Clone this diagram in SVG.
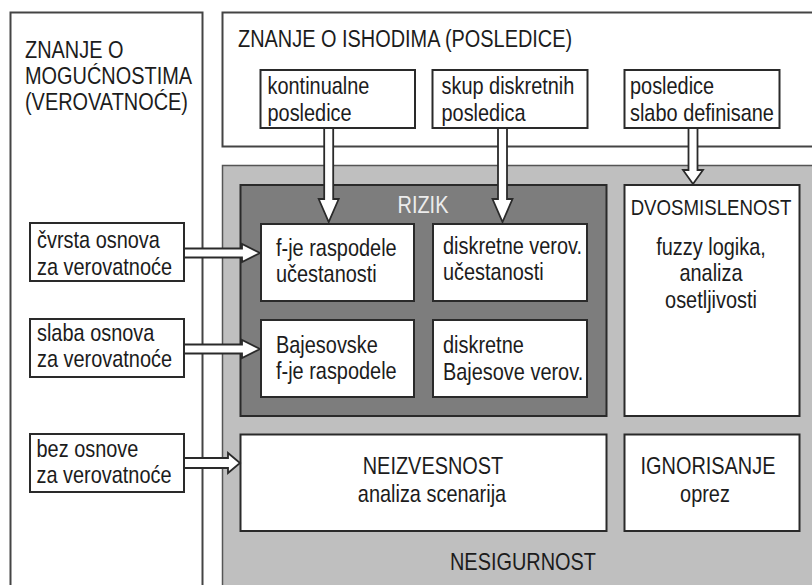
<svg xmlns="http://www.w3.org/2000/svg" width="812" height="585" viewBox="0 0 812 585">
<style>
.t{font-family:"Liberation Sans",Arial,sans-serif;font-size:24px;fill:#1c1c1c}
.c{text-anchor:middle}
.box{fill:#fff;stroke:#2a2a2a;stroke-width:2}
.big{fill:#fff;stroke:#444;stroke-width:2}
.arr{fill:#fff;stroke:#2a2a2a;stroke-width:1.8;stroke-linejoin:miter}
</style>
<rect width="812" height="585" fill="#fff"/>
<g id="verovatnoce">
<rect class="big" x="10.5" y="12.5" width="192" height="600"/>
<g transform="scale(0.83 1)">
<text class="t" x="30.12" y="58">ZNANJE O</text>
<text class="t" x="30.12" y="84">MOGUĆNOSTIMA</text>
<text class="t" x="30.12" y="110">(VEROVATNOĆE)</text>
</g>
</g>
<g id="posledice">
<rect class="big" x="222.5" y="12.5" width="600" height="134"/>
<g transform="scale(0.83 1)">
<text class="t" x="286.75" y="47">ZNANJE O ISHODIMA (POSLEDICE)</text>
</g>
</g>
<g id="nesigurnost">
<rect x="222.5" y="165.5" width="600" height="440" fill="#bfbfbf" stroke="#555" stroke-width="1.5"/>
<g transform="scale(0.83 1)">
<text class="t c" x="630.12" y="570">NESIGURNOST</text>
</g>
</g>
<g id="rizik">
<rect x="240.5" y="185" width="366" height="231" fill="#7d7d7d" stroke="#2a2a2a" stroke-width="2"/>
<g transform="scale(0.83 1)">
<text class="t c" x="509.64" y="213" style="fill:#ececec">RIZIK</text>
</g>
</g>
<g id="kontinualne">
<rect class="box" x="260.5" y="70" width="154.5" height="58"/>
<g transform="scale(0.83 1)">
<text class="t" x="322.29" y="94">kontinualne</text>
<text class="t" x="322.29" y="121">posledice</text>
</g>
</g>
<g id="skup">
<rect class="box" x="432.5" y="70" width="155" height="58"/>
<g transform="scale(0.83 1)">
<text class="t" x="531.93" y="94">skup diskretnih</text>
<text class="t" x="531.93" y="121">posledica</text>
</g>
</g>
<g id="slabo">
<rect class="box" x="624.5" y="70" width="155" height="58"/>
<g transform="scale(0.83 1)">
<text class="t" x="759.04" y="94">posledice</text>
<text class="t" x="759.04" y="121">slabo definisane</text>
</g>
</g>
<g id="cvrsta">
<rect class="box" x="30" y="223" width="154" height="58"/>
<g transform="scale(0.83 1)">
<text class="t" x="44.58" y="248">čvrsta osnova</text>
<text class="t" x="44.58" y="275">za verovatnoće</text>
</g>
</g>
<g id="slaba">
<rect class="box" x="30" y="319" width="154" height="58"/>
<g transform="scale(0.83 1)">
<text class="t" x="44.58" y="341">slaba osnova</text>
<text class="t" x="44.58" y="367">za verovatnoće</text>
</g>
</g>
<g id="bez">
<rect class="box" x="30" y="434" width="154" height="58"/>
<g transform="scale(0.83 1)">
<text class="t" x="43.98" y="457">bez osnove</text>
<text class="t" x="43.98" y="483">za verovatnoće</text>
</g>
</g>
<g id="fje">
<rect class="box" x="261" y="224" width="153" height="77"/>
<g transform="scale(0.83 1)">
<text class="t" x="332.53" y="256">f-je raspodele</text>
<text class="t" x="332.53" y="282">učestanosti</text>
</g>
</g>
<g id="diskretne-verov">
<rect class="box" x="433" y="224" width="154" height="77"/>
<g transform="scale(0.83 1)">
<text class="t" x="533.73" y="254">diskretne verov.</text>
<text class="t" x="533.73" y="280">učestanosti</text>
</g>
</g>
<g id="bajesovske">
<rect class="box" x="261" y="320" width="153" height="77"/>
<g transform="scale(0.83 1)">
<text class="t" x="332.53" y="353">Bajesovske</text>
<text class="t" x="332.53" y="379">f-je raspodele</text>
</g>
</g>
<g id="diskretne-bajesove">
<rect class="box" x="433" y="320" width="154" height="77"/>
<g transform="scale(0.83 1)">
<text class="t" x="533.73" y="353">diskretne</text>
<text class="t" x="533.73" y="380">Bajesove verov.</text>
</g>
</g>
<g id="dvosmislenost">
<rect class="box" x="624.5" y="185" width="175" height="231"/>
<g transform="scale(0.83 1)">
<text class="t c" x="856.63" y="215" style="font-size:22.5px">DVOSMISLENOST</text>
<text class="t c" x="856.63" y="255">fuzzy logika,</text>
<text class="t c" x="856.63" y="281.5">analiza</text>
<text class="t c" x="856.63" y="308">osetljivosti</text>
</g>
</g>
<g id="neizvesnost">
<rect class="box" x="240.5" y="434.5" width="366" height="96.5"/>
<g transform="scale(0.83 1)">
<text class="t c" x="521.69" y="474">NEIZVESNOST</text>
<text class="t c" x="520.48" y="502">analiza scenarija</text>
</g>
</g>
<g id="ignorisanje">
<rect class="box" x="624.5" y="434.5" width="175" height="96.5"/>
<g transform="scale(0.83 1)">
<text class="t c" x="853.01" y="474">IGNORISANJE</text>
<text class="t c" x="849.40" y="502">oprez</text>
</g>
</g>
<g id="connectors">
<path class="arr" d="M324.2,129 V199 H318.7 L328.7,222 L338.7,199 H333.2 V129"/>
<path class="arr" d="M498,129 V199 H492.5 L502.5,222 L512.5,199 H507 V129"/>
<path class="arr" d="M688.5,129 V170 H683 L693,184 L703,170 H697.5 V129"/>
<path class="arr" d="M185,248.5 H242 V244 L260,253 L242,262 V257.5 H185"/>
<path class="arr" d="M185,344.5 H242 V340 L260,349 L242,358 V353.5 H185"/>
<path class="arr" d="M185,458 H228 V453 L240,463 L228,473 V468 H185"/>
</g>
</svg>
